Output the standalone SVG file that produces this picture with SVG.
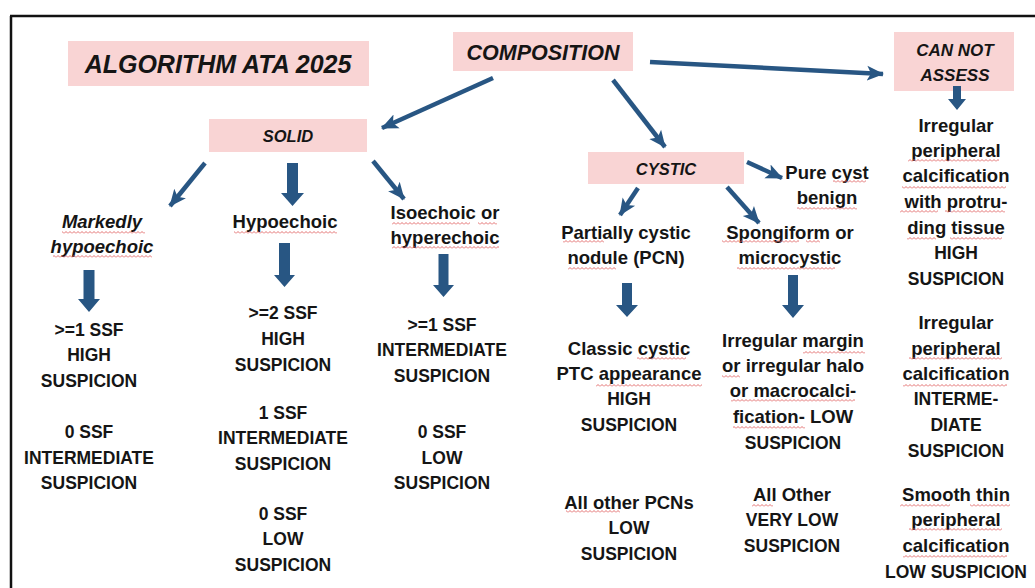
<svg xmlns="http://www.w3.org/2000/svg" width="1035" height="588" viewBox="0 0 1035 588">
<defs>
<style>
.t{font-family:"Liberation Sans",Arial,sans-serif;font-weight:bold;font-size:17.5px;fill:#151515;text-anchor:middle}
.lc{font-size:18.5px}
.it{font-style:italic}
.box{fill:#f9d4d4}
.ln{stroke:#285683;stroke-width:4.5;fill:none;marker-end:url(#ah)}
.blk{fill:#285683}
.sq{fill:url(#squig)}
</style>
<marker id="ah" markerUnits="userSpaceOnUse" markerWidth="17" markerHeight="17" viewBox="0 0 17 17" refX="16" refY="8.5" orient="auto">
<path d="M0,1 L17,8.5 L0,16 L4,8.5 z" fill="#285683"/>
</marker>
<pattern id="squig" patternUnits="userSpaceOnUse" width="4" height="3">
<path d="M0,2.5 L2,0.5 L4,2.5" stroke="#e06060" stroke-width="0.9" fill="none"/>
</pattern>
</defs>
<rect width="1035" height="588" fill="#ffffff"/>
<g id="frame" stroke="#111" stroke-width="2.5" fill="none">
<line x1="10" y1="16" x2="1035" y2="16"/>
<line x1="11" y1="16" x2="11" y2="588"/>
</g>
<g id="title">
<rect class="box" x="68" y="41" width="301" height="45"/>
<text class="t it" x="218" y="73" style="font-size:25px">ALGORITHM ATA 2025</text>
</g>
<g id="composition">
<rect class="box" x="453" y="32" width="180" height="39"/>
<text class="t it" x="543" y="60" style="font-size:21.5px">COMPOSITION</text>
</g>
<g id="cannotassess">
<rect class="box" x="894" y="32" width="120" height="59"/>
<text class="t it" x="955" y="56" style="font-size:17px">CAN NOT</text>
<text class="t it" x="955" y="81" style="font-size:17px">ASSESS</text>
</g>
<g id="solid">
<rect class="box" x="209" y="119" width="158" height="33"/>
<text class="t it" x="288" y="142" style="font-size:16.5px">SOLID</text>
</g>
<g id="cystic">
<rect class="box" x="588" y="152" width="156" height="32"/>
<text class="t it" x="666" y="175" style="font-size:16.5px">CYSTIC</text>
</g>
<g id="markedly">
<text class="t lc it" x="102" y="228">Markedly</text>
<text class="t lc it" x="102" y="253">hypoechoic</text>
<text class="t" x="89" y="336">&gt;=1 SSF</text>
<text class="t" x="89" y="361">HIGH</text>
<text class="t" x="89" y="387">SUSPICION</text>
<text class="t" x="89" y="438">0 SSF</text>
<text class="t" x="89" y="464">INTERMEDIATE</text>
<text class="t" x="89" y="489">SUSPICION</text>
</g>
<g id="hypoechoic">
<text class="t lc" x="285" y="228">Hypoechoic</text>
<text class="t" x="283" y="319">&gt;=2 SSF</text>
<text class="t" x="283" y="345">HIGH</text>
<text class="t" x="283" y="371">SUSPICION</text>
<text class="t" x="283" y="419">1 SSF</text>
<text class="t" x="283" y="444">INTERMEDIATE</text>
<text class="t" x="283" y="470">SUSPICION</text>
<text class="t" x="283" y="520">0 SSF</text>
<text class="t" x="283" y="545">LOW</text>
<text class="t" x="283" y="571">SUSPICION</text>
</g>
<g id="isoechoic">
<text class="t lc" x="445" y="219">Isoechoic or</text>
<text class="t lc" x="445" y="244">hyperechoic</text>
<text class="t" x="442" y="331">&gt;=1 SSF</text>
<text class="t" x="442" y="356">INTERMEDIATE</text>
<text class="t" x="442" y="382">SUSPICION</text>
<text class="t" x="442" y="438">0 SSF</text>
<text class="t" x="442" y="464">LOW</text>
<text class="t" x="442" y="489">SUSPICION</text>
</g>
<g id="pcn">
<text class="t lc" x="626" y="239">Partially cystic</text>
<text class="t lc" x="626" y="264">nodule (PCN)</text>
<text class="t lc" x="629" y="355">Classic cystic</text>
<text class="t lc" x="629" y="380">PTC appearance</text>
<text class="t" x="629" y="405">HIGH</text>
<text class="t" x="629" y="431">SUSPICION</text>
<text class="t lc" x="629" y="509">All other PCNs</text>
<text class="t" x="629" y="534">LOW</text>
<text class="t" x="629" y="560">SUSPICION</text>
</g>
<g id="spongiform">
<text class="t lc" x="790" y="239">Spongiform or</text>
<text class="t lc" x="790" y="264">microcystic</text>
<text class="t lc" x="793" y="347">Irregular margin</text>
<text class="t lc" x="793" y="372">or irregular halo</text>
<text class="t lc" x="793" y="397">or macrocalci-</text>
<text class="t lc" x="793" y="423">fication- LOW</text>
<text class="t" x="793" y="449">SUSPICION</text>
<text class="t lc" x="792" y="501">All Other</text>
<text class="t" x="792" y="526">VERY LOW</text>
<text class="t" x="792" y="552">SUSPICION</text>
</g>
<g id="purecyst">
<text class="t lc" x="827" y="179">Pure cyst</text>
<text class="t lc" x="827" y="204">benign</text>
</g>
<g id="calcification">
<text class="t lc" x="956" y="132">Irregular</text>
<text class="t lc" x="956" y="157">peripheral</text>
<text class="t lc" x="956" y="182">calcification</text>
<text class="t lc" x="956" y="208">with protru-</text>
<text class="t lc" x="956" y="234">ding tissue</text>
<text class="t" x="956" y="259">HIGH</text>
<text class="t" x="956" y="285">SUSPICION</text>
<text class="t lc" x="956" y="329">Irregular</text>
<text class="t lc" x="956" y="355">peripheral</text>
<text class="t lc" x="956" y="380">calcification</text>
<text class="t" x="956" y="405">INTERME-</text>
<text class="t" x="956" y="431">DIATE</text>
<text class="t" x="956" y="457">SUSPICION</text>
<text class="t lc" x="956" y="501">Smooth thin</text>
<text class="t lc" x="956" y="526">peripheral</text>
<text class="t lc" x="956" y="552">calcification</text>
<text class="t" x="956" y="578">LOW SUSPICION</text>
</g>
<g id="squiggles">
<rect class="sq" x="62" y="231" width="83" height="3"/>
<rect class="sq" x="53" y="255" width="99" height="3"/>
<rect class="sq" x="234" y="231" width="103" height="3"/>
<rect class="sq" x="392" y="222" width="78" height="3"/>
<rect class="sq" x="478" y="222" width="19" height="3"/>
<rect class="sq" x="392" y="246" width="107" height="3"/>
<rect class="sq" x="563" y="240" width="41" height="3"/>
<rect class="sq" x="568" y="267" width="48" height="3"/>
<rect class="sq" x="722" y="240" width="77" height="3"/>
<rect class="sq" x="806" y="240" width="14" height="3"/>
<rect class="sq" x="737" y="267" width="98" height="3"/>
<rect class="sq" x="833" y="180" width="33" height="3"/>
<rect class="sq" x="797" y="207" width="60" height="3"/>
<rect class="sq" x="908" y="159" width="91" height="3"/>
<rect class="sq" x="902" y="186" width="104" height="3"/>
<rect class="sq" x="900" y="210" width="38" height="3"/>
<rect class="sq" x="945" y="210" width="60" height="3"/>
<rect class="sq" x="907" y="237" width="29" height="3"/>
<rect class="sq" x="950" y="237" width="52" height="3"/>
<rect class="sq" x="637" y="357" width="49" height="3"/>
<rect class="sq" x="596" y="384" width="106" height="3"/>
<rect class="sq" x="566" y="510" width="54" height="3"/>
<rect class="sq" x="803" y="351" width="62" height="3"/>
<rect class="sq" x="722" y="375" width="18" height="3"/>
<rect class="sq" x="731" y="399" width="124" height="3"/>
<rect class="sq" x="733" y="426" width="72" height="3"/>
<rect class="sq" x="752" y="504" width="21" height="3"/>
<rect class="sq" x="909" y="357" width="93" height="3"/>
<rect class="sq" x="903" y="384" width="104" height="3"/>
<rect class="sq" x="900" y="504" width="50" height="3"/>
<rect class="sq" x="970" y="504" width="40" height="3"/>
<rect class="sq" x="909" y="528" width="93" height="3"/>
<rect class="sq" x="903" y="555" width="104" height="3"/>
</g>
<g id="connectors">
<line class="ln" x1="493" y1="78" x2="382" y2="128"/>
<line class="ln" x1="613" y1="80" x2="665" y2="147"/>
<line class="ln" x1="650" y1="62" x2="883" y2="74"/>
<line class="ln" x1="747" y1="162" x2="782" y2="178"/>
<line class="ln" x1="638" y1="188" x2="620" y2="215"/>
<line class="ln" x1="727" y1="187" x2="759" y2="223"/>
<line class="ln" x1="205" y1="163" x2="170" y2="206"/>
<line class="ln" x1="373" y1="161" x2="404" y2="199"/>
<polygon class="blk" points="287,163 298,163 298,193 304,193 292.5,206 281,193 287,193"/>
<polygon class="blk" points="279,243 290,243 290,275 295,275 284.5,287 274,275 279,275"/>
<polygon class="blk" points="438.5,254 448.5,254 448.5,285 454,285 443.5,297 433,285 438.5,285"/>
<polygon class="blk" points="83.5,270 94.5,270 94.5,299 100,299 89,312 78,299 83.5,299"/>
<polygon class="blk" points="622,283 632,283 632,305 638,305 627,317 616,305 622,305"/>
<polygon class="blk" points="788,275 798,275 798,305 804,305 793,318 782,305 788,305"/>
<polygon class="blk" points="953,86 961,86 961,99 966,99 957,110 948,99 953,99"/>
</g>
</svg>
